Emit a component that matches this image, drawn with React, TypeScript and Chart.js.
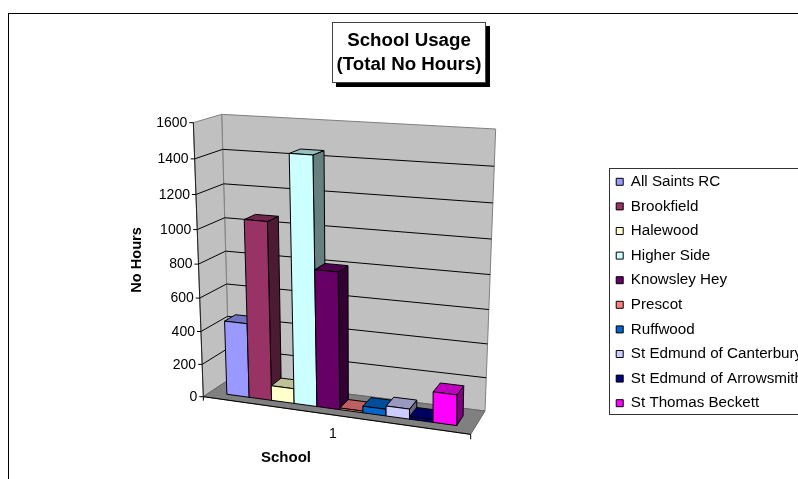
import React, { useEffect, useRef } from "react";
import { Chart, registerables } from "chart.js";

Chart.register(...registerables);

const categories = ["1"];
const schools = [
  "All Saints RC",
  "Brookfield",
  "Halewood",
  "Higher Side",
  "Knowsley Hey",
  "Prescot",
  "Ruffwood",
  "St Edmund of Canterbury",
  "St Edmund of Arrowsmith",
  "St Thomas Beckett",
];
const hours = [450, 1060, 90, 1450, 810, 10, 40, 60, 15, 180];
const colours = ["#9999FF", "#993366", "#FFFFCC", "#CCFFFF", "#660066", "#FF8080", "#0066CC", "#CCCCFF", "#000080", "#FF00FF"];
const titleLines = ["School Usage", "(Total No Hours)"];
const xTitle = "School";
const yTitle = "No Hours";

const FONT = '"Liberation Sans", Arial, sans-serif';

type Pt = [number, number];
const z = (x: number, y: number): Pt => [130 + x / 3, 90 + y / 3];
// Projected corners of the 3D box (Front/Back, Bottom/Top, Left/Right)
const FBL = z(220, 920), FTL = z(190, 98), FBR = z(1022, 1033), FTR = z(1022, 152);
const BBL = z(298, 868), BTL = z(275, 73), BBR = z(1065, 963), BTR = z(1097, 117);
const WARP = 0.065;
const WARP_U = 0.04;
const DEPTH_FRONT = 0.27;
const DEPTH_BACK = 0.69;

const lerp = (a: Pt, b: Pt, t: number): Pt => [a[0] + (b[0] - a[0]) * t, a[1] + (b[1] - a[1]) * t];
function project(uIn: number, v: number, d: number): Pt {
  const t = v - WARP * v * (1 - v);
  const u = uIn - WARP_U * uIn * (1 - uIn);
  const bottom = lerp(lerp(FBL, FBR, u), lerp(BBL, BBR, u), d);
  const top = lerp(lerp(FTL, FTR, u), lerp(BTL, BTR, u), d);
  return lerp(bottom, top, t);
}

function shade(hex: string, f: number): string {
  const n = parseInt(hex.slice(1), 16);
  const c = [(n >> 16) & 255, (n >> 8) & 255, n & 255].map((x) => Math.round(x * f));
  return `rgb(${c[0]},${c[1]},${c[2]})`;
}

function poly(ctx: CanvasRenderingContext2D, pts: Pt[], fill: string | null, stroke: string | null, lw = 1) {
  ctx.beginPath();
  pts.forEach((p, i) => (i ? ctx.lineTo(p[0], p[1]) : ctx.moveTo(p[0], p[1])));
  ctx.closePath();
  if (fill) {
    ctx.fillStyle = fill;
    ctx.fill();
  }
  if (stroke) {
    ctx.strokeStyle = stroke;
    ctx.lineWidth = lw;
    ctx.stroke();
  }
}
function line(ctx: CanvasRenderingContext2D, a: Pt, b: Pt, color: string, lw = 1) {
  ctx.beginPath();
  ctx.moveTo(a[0], a[1]);
  ctx.lineTo(b[0], b[1]);
  ctx.strokeStyle = color;
  ctx.lineWidth = lw;
  ctx.stroke();
}

const scene3d = {
  id: "scene3d",
  beforeDraw(chart: any) {
    const ctx: CanvasRenderingContext2D = chart.ctx;
    ctx.save();
    ctx.fillStyle = "#fff";
    ctx.fillRect(0, 0, chart.width, chart.height);
    // outer chart frame
    line(ctx, [8.5, 13.5], [8.5, chart.height], "#000");
    line(ctx, [8, 13.5], [chart.width, 13.5], "#000");
    // legend box
    ctx.strokeStyle = "#333";
    ctx.lineWidth = 1;
    ctx.strokeRect(609.5, 168.5, 200, 246);
    ctx.restore();
  },
  beforeDatasetsDraw(chart: any) {
    const ctx: CanvasRenderingContext2D = chart.ctx;
    const area = chart.chartArea;
    const yScale = chart.scales.y;
    ctx.save();
    // walls and floor
    poly(ctx, [BBL, BTL, BTR, BBR], "#C0C0C0", "#808080");
    poly(ctx, [FBL, FTL, BTL, BBL], "#C0C0C0", "#808080");
    poly(ctx, [FBL, BBL, BBR, FBR], "#808080", "#666");
    // gridlines
    yScale.ticks.forEach((t: any) => {
      const v = (area.bottom - yScale.getPixelForValue(t.value)) / area.height;
      if (v > 0.001 && v < 0.999) {
        const a = project(0, v, 0), b = project(0, v, 1), c = project(1, v, 1);
        line(ctx, a, b, "#000");
        line(ctx, b, c, "#000");
      }
    });
    // value axis and category axis
    line(ctx, FBL, FTL, "#222");
    line(ctx, FBL, FBR, "#000");
    line(ctx, FBR, [FBR[0], FBR[1] + 5], "#000");
    line(ctx, FBL, [FBL[0], FBL[1] + 4], "#000");
    // bars, left to right, from the library's bar elements
    chart.data.datasets.forEach((ds: any, i: number) => {
      const el = chart.getDatasetMeta(i).data[0];
      const u0 = (el.x - el.width / 2 - area.left) / area.width;
      const u1 = (el.x + el.width / 2 - area.left) / area.width;
      const v = (el.base - el.y) / area.height;
      const col = ds.backgroundColor as string;
      const f = (u: number, h: number, d: number) => project(u, h, d);
      poly(ctx, [f(u1, 0, DEPTH_FRONT), f(u1, v, DEPTH_FRONT), f(u1, v, DEPTH_BACK), f(u1, 0, DEPTH_BACK)], shade(col, 0.5), "#000");
      poly(ctx, [f(u0, v, DEPTH_FRONT), f(u0, v, DEPTH_BACK), f(u1, v, DEPTH_BACK), f(u1, v, DEPTH_FRONT)], shade(col, 0.75), "#000");
      poly(ctx, [f(u0, 0, DEPTH_FRONT), f(u0, v, DEPTH_FRONT), f(u1, v, DEPTH_FRONT), f(u1, 0, DEPTH_FRONT)], col, "#000");
    });
    ctx.restore();
    return false;
  },
  afterDraw(chart: any) {
    const ctx: CanvasRenderingContext2D = chart.ctx;
    const area = chart.chartArea;
    const yScale = chart.scales.y;
    ctx.save();
    ctx.fillStyle = "#000";
    ctx.font = `14px ${FONT}`;
    ctx.textAlign = "right";
    ctx.textBaseline = "middle";
    yScale.ticks.forEach((t: any) => {
      const v = (area.bottom - yScale.getPixelForValue(t.value)) / area.height;
      const p = project(0, v, 0);
      line(ctx, p, [p[0] - 4, p[1]], "#000");
      ctx.fillText(String(t.value), p[0] - 6, p[1] + 0.5);
    });
    ctx.textAlign = "center";
    ctx.fillText(categories[0], 333, 434);

    ctx.font = `bold 15px ${FONT}`;
    ctx.fillText(xTitle, 286, 458);
    ctx.save();
    ctx.translate(137, 260);
    ctx.rotate(-Math.PI / 2);
    ctx.font = `bold 14.6px ${FONT}`;
    ctx.fillText(yTitle, 0, 0);
    ctx.restore();

    // title box with shadow
    ctx.fillStyle = "#000";
    ctx.fillRect(336, 26, 154, 61);
    ctx.fillStyle = "#fff";
    ctx.fillRect(332, 22, 154, 61);
    ctx.strokeStyle = "#444";
    ctx.lineWidth = 1;
    ctx.strokeRect(332.5, 22.5, 153, 60);
    ctx.fillStyle = "#000";
    ctx.font = `bold 18.7px ${FONT}`;
    ctx.fillText(titleLines[0], 409, 41);
    ctx.fillText(titleLines[1], 409, 65);
    ctx.restore();
  },
};

export default function App() {
  const ref = useRef<HTMLCanvasElement>(null);
  useEffect(() => {
    const chart = new Chart(ref.current!, {
      type: "bar",
      data: {
        labels: categories,
        datasets: schools.map((label, i) => ({
          label,
          data: [hours[i]],
          backgroundColor: colours[i],
          borderColor: "#000",
          borderWidth: 1,
          categoryPercentage: 0.87,
          barPercentage: 1,
        })),
      },
      options: {
        animation: false,
        responsive: false,
        maintainAspectRatio: false,
        layout: { padding: { top: 106, right: -15 } },
        scales: {
          x: { display: false },
          y: { display: false, min: 0, max: 1600, ticks: { stepSize: 200 } },
        },
        plugins: {
          title: { display: false },
          tooltip: { enabled: false },
          legend: {
            position: "right",
            labels: {
              boxWidth: 7,
              boxHeight: 7,
              padding: 9.4,
              color: "#000",
              font: { family: FONT, size: 15.2 },
            },
          },
        },
      } as any,
      plugins: [scene3d as any],
    });
    return () => chart.destroy();
  }, []);
  return <canvas ref={ref} width={798} height={479} style={{ position: "fixed", left: 0, top: 0, display: "block" }} />;
}
